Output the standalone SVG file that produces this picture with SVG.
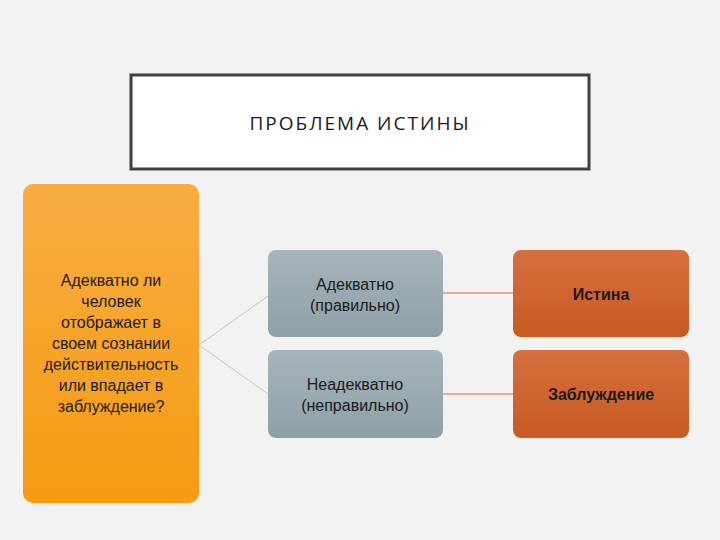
<svg xmlns="http://www.w3.org/2000/svg" width="720" height="540" viewBox="0 0 720 540">
<defs>
<linearGradient id="og" x1="0" y1="0" x2="0" y2="1"><stop offset="0" stop-color="#f8ad42"/><stop offset="1" stop-color="#f69b12"/></linearGradient>
<linearGradient id="gg" x1="0" y1="0" x2="0" y2="1"><stop offset="0" stop-color="#a6b4bb"/><stop offset="1" stop-color="#8fa0a8"/></linearGradient>
<linearGradient id="rg" x1="0" y1="0" x2="0" y2="1"><stop offset="0" stop-color="#d6703f"/><stop offset="1" stop-color="#c85a22"/></linearGradient>
<style>
text{font-family:"Liberation Sans",Arial,sans-serif;text-anchor:middle;fill:#1a1a1a}
.g{fill:url(#gg)}.r{fill:url(#rg)}
.t{font-size:16px}.b{font-size:16px;font-weight:bold}
</style>
</defs>
<rect width="720" height="540" fill="#f2f2f2"/>
<g id="title"><rect x="131" y="75" width="458" height="94" fill="#fff" stroke="#404040" stroke-width="3"/>
<text x="360" y="130" style="font-size:19px;letter-spacing:2px;font-family:'Open Sans',sans-serif">ПРОБЛЕМА ИСТИНЫ</text></g>
<g id="connectors" fill="none" stroke-width="1">
<path d="M199 345 L268 296 M199 345 L268 394" stroke="#c8c8c8"/>
<path d="M443 293 L513 293 M443 394 L513 394" stroke="#d06a3a"/>
</g>
<g id="question"><rect x="23" y="184" width="176" height="319" rx="10" fill="url(#og)"/>
<text class="t"><tspan x="111" y="286">Адекватно ли</tspan><tspan x="111" y="307">человек</tspan><tspan x="111" y="328">отображает в</tspan><tspan x="111" y="349">своем сознании</tspan><tspan x="111" y="370">действительность</tspan><tspan x="111" y="391">или впадает в</tspan><tspan x="111" y="412">заблуждение?</tspan></text></g>
<g id="adequate"><rect class="g" x="268" y="250" width="175" height="87" rx="8"/>
<text class="t"><tspan x="355" y="290">Адекватно</tspan><tspan x="355" y="311">(правильно)</tspan></text></g>
<g id="inadequate"><rect class="g" x="268" y="350" width="175" height="88" rx="8"/>
<text class="t"><tspan x="355" y="390">Неадекватно</tspan><tspan x="355" y="411">(неправильно)</tspan></text></g>
<g id="truth"><rect class="r" x="513" y="250" width="176" height="87" rx="8"/>
<text class="b" x="601" y="300">Истина</text></g>
<g id="error"><rect class="r" x="513" y="350" width="176" height="88" rx="8"/>
<text class="b" x="601" y="400">Заблуждение</text></g>
</svg>
